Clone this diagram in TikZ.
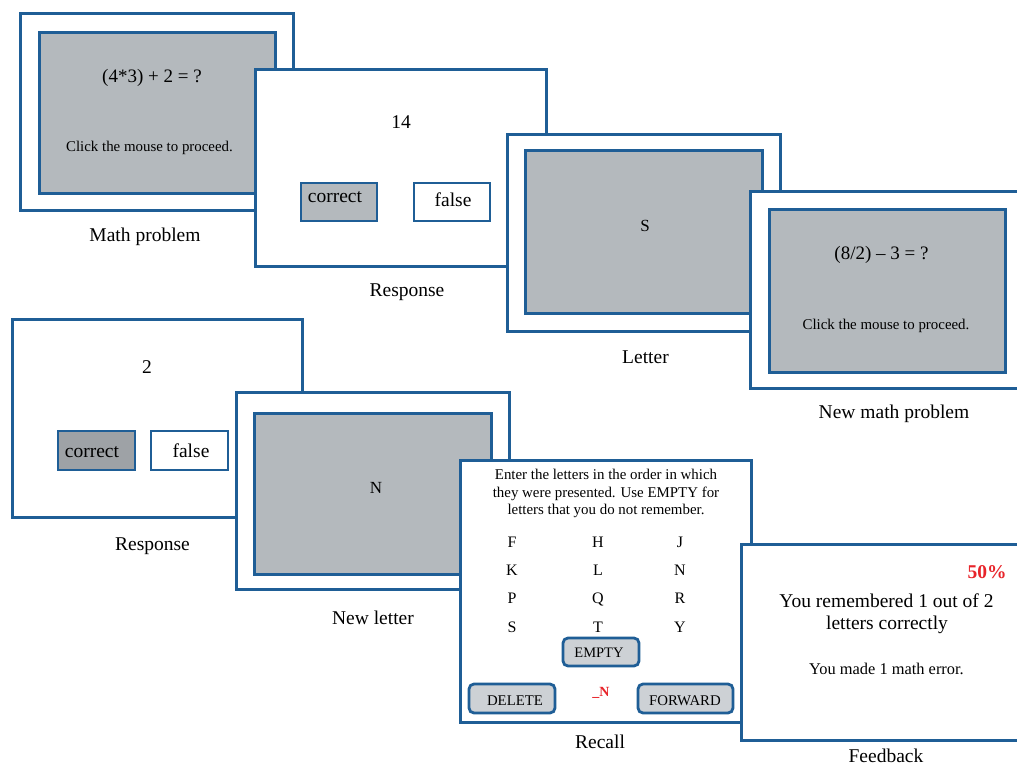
\documentclass[tikz,border=0pt]{standalone}
\usepackage{fontspec}
\setmainfont{Liberation Serif}
\definecolor{bblue}{RGB}{31,94,150}
\definecolor{sgray}{RGB}{180,185,189}
\definecolor{dgray}{RGB}{158,162,166}
\definecolor{lgray}{RGB}{205,209,213}
\definecolor{rred}{RGB}{232,36,42}
\newcommand{\fs}[1]{\fontsize{#1}{#1}\selectfont}
\tikzset{
  scr/.style={draw=bblue, line width=3pt, fill=white, inner sep=0pt, rectangle},
  gscr/.style={scr, fill=sgray},
  btn/.style={scr, line width=2.8pt},
  rbtn/.style={scr, line width=2.8pt, fill=lgray, rounded corners=5pt},
  txt/.style={anchor=base, inner sep=0pt},
  lbl/.style={txt, font=\fs{19.5}},
}
\begin{document}
\begin{tikzpicture}[x=1pt,y=-1pt]
\useasboundingbox (0,0) rectangle (1017,767);
% Math problem
\node[scr, minimum width=273pt, minimum height=197pt] (s1) at (156.5,112.5) {};
\node[gscr, minimum width=236pt, minimum height=161pt] (s1i) at (157,113.5) {};
\node[txt, font=\fs{19}] (s1q) at (152,83) {(4*3) + 2 = ?};
\node[txt, font=\fs{14.9}] (s1c) at (149.5,152) {Click the mouse to proceed.};
\node[lbl] (l1) at (145,242) {Math problem};
% Response 1
\node[scr, minimum width=291pt, minimum height=197pt] (s2) at (400.5,168.5) {};
\node[txt, font=\fs{19.5}] (s2n) at (401,129) {14};
\node[btn, fill=sgray, minimum width=76pt, minimum height=38pt] (b1c) at (339,202) {};
\node[btn, minimum width=76pt, minimum height=38pt] (b1f) at (452,202) {};
\node[txt, font=\fs{19.5}] (t1c) at (335,203) {correct};
\node[txt, font=\fs{19.5}] (t1f) at (453,207) {false};
\node[lbl] (l2) at (407,297) {Response};
% Letter
\node[scr, minimum width=272.5pt, minimum height=196pt] (s3) at (643.75,233) {};
\node[gscr, minimum width=237pt, minimum height=162pt] (s3i) at (643.5,232) {};
\node[txt, font=\fs{17}] (s3l) at (645,232) {S};
\node[lbl] (l3) at (645.5,363) {Letter};
% New math problem
\node[scr, minimum width=272.5pt, minimum height=196pt] (s4) at (886.75,290) {};
\node[gscr, minimum width=236pt, minimum height=162pt] (s4i) at (887,291) {};
\node[txt, font=\fs{19}] (s4q) at (881.5,260) {(8/2) – 3 = ?};
\node[txt, font=\fs{14.9}] (s4c) at (886,329) {Click the mouse to proceed.};
\node[lbl] (l4) at (894,418) {New math problem};
% Response 2
\node[scr, minimum width=290pt, minimum height=198pt] (s5) at (157,418) {};
\node[txt, font=\fs{19.5}] (s5n) at (147,373) {2};
\node[btn, fill=dgray, minimum width=77pt, minimum height=39pt] (b2c) at (96.5,450.5) {};
\node[btn, minimum width=77pt, minimum height=39pt] (b2f) at (189.5,450.5) {};
\node[txt, font=\fs{19.5}] (t2c) at (92,457) {correct};
\node[txt, font=\fs{19.5}] (t2f) at (191,457) {false};
\node[lbl] (l5) at (152.5,550) {Response};
% New letter
\node[scr, minimum width=273pt, minimum height=197pt] (s6) at (372.5,490.5) {};
\node[gscr, minimum width=237pt, minimum height=161pt] (s6i) at (372.5,493.5) {};
\node[txt, font=\fs{17}] (s6l) at (376,493) {N};
\node[lbl] (l6) at (373,624) {New letter};
% Recall
\node[scr, minimum width=291pt, minimum height=262pt] (s7) at (605.5,591) {};
\node[txt, font=\fs{14.9}] (s7t1) at (606,479) {Enter the letters in the order in which};
\node[txt, font=\fs{14.9}] (s7t2) at (606,497) {they were presented. Use EMPTY for};
\node[txt, font=\fs{14.9}] (s7t3) at (606,514) {letters that you do not remember.};
\foreach \a/\b/\c/\y [count=\i] in {F/H/J/547, K/L/N/575, P/Q/R/603, S/T/Y/632}{
  \node[txt, font=\fs{16}] (ra\i) at (512,\y) {\a};
  \node[txt, font=\fs{16}] (rb\i) at (598,\y) {\b};
  \node[txt, font=\fs{16}] (rc\i) at (680,\y) {\c};
}
\node[rbtn, minimum width=76pt, minimum height=28pt] (bE) at (601,652) {};
\node[txt, font=\fs{14.5}] (tE) at (599,657) {EMPTY};
\node[rbtn, minimum width=86pt, minimum height=29pt] (bD) at (512,698.5) {};
\node[txt, font=\fs{14.8}] (tD) at (515,705) {DELETE};
\node[rbtn, minimum width=95pt, minimum height=29pt] (bF) at (685.5,698.5) {};
\node[txt, font=\fs{14.8}] (tF) at (685,705) {FORWARD};
\node[txt, font=\fs{14}\bfseries, text=rred] (tN) at (601,696) {\_N};
\node[lbl] (l7) at (600,748) {Recall};
% Feedback
\node[scr, minimum width=284pt, minimum height=196pt] (s8) at (883,642) {};
\node[txt, font=\fs{19.5}\bfseries, text=rred] (f1) at (987,578) {50\%};
\node[txt, font=\fs{19.5}] (f2) at (886.5,607) {You remembered 1 out of 2};
\node[txt, font=\fs{19.5}] (f3) at (887,629) {letters correctly};
\node[txt, font=\fs{16.4}] (f4) at (886.5,674) {You made 1 math error.};
\node[lbl] (l8) at (886,762) {Feedback};
\end{tikzpicture}
\end{document}
